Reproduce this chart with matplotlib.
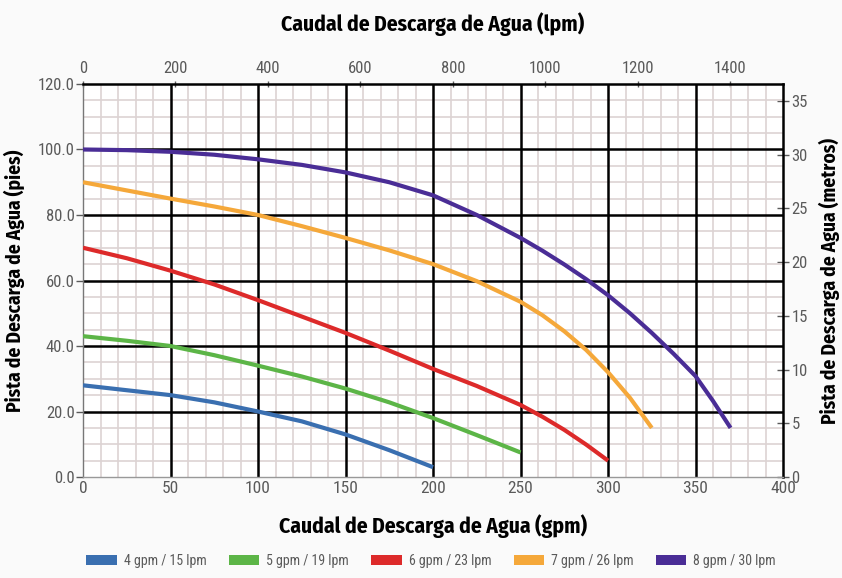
import matplotlib.pyplot as plt
from matplotlib.patches import Patch
from matplotlib.ticker import MultipleLocator

# caudal (gpm) y altura (pies)
gpm_4 = [0, 25, 50, 75, 100, 125, 150, 175, 200]
pies_4 = [28, 26.5, 25, 22.8, 20, 17, 13, 8.2, 3]
gpm_5 = [0, 25, 50, 75, 100, 125, 150, 175, 200, 225, 250]
pies_5 = [43, 41.6, 40, 37.2, 34, 30.7, 27, 22.8, 18, 12.8, 7.5]
gpm_6 = [0, 25, 50, 75, 100, 125, 150, 175, 200, 225, 250, 262.5, 275, 287.5, 300]
pies_6 = [70, 66.8, 63, 58.8, 54, 49, 44, 38.6, 33, 27.8, 22, 18.4, 14.4, 9.9, 5]
gpm_7 = [0, 25, 50, 75, 100, 125, 150, 175, 200, 225, 250, 262.5, 275, 287.5, 300, 312.5, 325]
pies_7 = [90, 87.5, 85, 82.6, 80, 76.6, 73, 69.2, 65, 59.8, 53.5, 49.4, 44.5, 38.8, 32, 24.2, 15]
gpm_8 = [0, 25, 50, 75, 100, 125, 150, 175, 200, 225, 250, 262.5, 275, 287.5,
         300, 312.5, 325, 337.5, 350, 360, 370]
pies_8 = [100, 99.8, 99.3, 98.4, 97, 95.3, 93, 90, 86, 80, 73, 69.1, 64.9, 60.4,
          55.5, 50, 44, 37.6, 30.8, 23.2, 15]

series = [
    (gpm_4, pies_4, '#3a6fb0', '4 gpm / 15 lpm'),
    (gpm_5, pies_5, '#5cb547', '5 gpm / 19 lpm'),
    (gpm_6, pies_6, '#dd2a2a', '6 gpm / 23 lpm'),
    (gpm_7, pies_7, '#f5a83a', '7 gpm / 26 lpm'),
    (gpm_8, pies_8, '#4a2d96', '8 gpm / 30 lpm'),
]

top_ticks = [0, 200, 400, 600, 800, 1000, 1200, 1400]
right_ticks = [0, 5, 10, 15, 20, 25, 30, 35]
left_ticks = [0, 20, 40, 60, 80, 100, 120]
bottom_ticks = [0, 50, 100, 150, 200, 250, 300, 350, 400]

GPM2LPM = 3.785
FT2M = 1 / 3.281

titlef = ['Fira Sans Condensed', 'DejaVu Sans']
tickf = ['Roboto Condensed', 'Archivo Narrow', 'DejaVu Sans']
gray = '#5a5a5a'

fig = plt.figure(figsize=(8.42, 5.78), dpi=100)
fig.patch.set_facecolor('#fafafa')
ax = fig.add_axes([0.0986, 0.1747, 0.8314, 0.68])
ax.set_facecolor('white')

ax.set_xlim(0, 400)
ax.set_ylim(0, 120)
ax.xaxis.set_minor_locator(MultipleLocator(10))
ax.yaxis.set_minor_locator(MultipleLocator(5))
ax.grid(which='minor', color='#ddd3d3', lw=1.2, zorder=0)
ax.set_axisbelow(True)
# lineas mayores encima de la malla fina
for v in bottom_ticks[1:-1]:
    ax.axvline(v, color='black', lw=1.8, zorder=1)
for v in left_ticks[1:-1]:
    ax.axhline(v, color='black', lw=1.8, zorder=1)

for x, y, c, lab in series:
    ax.plot(x, y, color=c, lw=3, solid_capstyle='butt',
            solid_joinstyle='round', zorder=3)

for s in ax.spines.values():
    s.set_color('black')
    s.set_linewidth(1.8)
ax.spines['left'].set_color('#777777')
ax.spines['left'].set_linewidth(1.0)
ax.spines['bottom'].set_color('#999999')
ax.spines['bottom'].set_linewidth(1.0)

ax.set_xticks(bottom_ticks)
ax.set_yticks(left_ticks)
ax.set_yticklabels(['%.1f' % v for v in left_ticks])
ax.tick_params(which='minor', length=0)
ax.tick_params(axis='y', which='major', length=5, width=1, color=gray,
               labelcolor=gray, labelsize=12, pad=1)
ax.tick_params(axis='x', which='major', length=0, labelcolor=gray,
               labelsize=12.5, pad=3)
for t in ax.get_xticklabels() + ax.get_yticklabels():
    t.set_family(tickf)

ax.set_xlabel('Caudal de Descarga de Agua (gpm)', family=titlef, fontsize=15.5,
              fontweight='bold', labelpad=13)
ax.set_ylabel('Pista de Descarga de Agua (pies)', family=titlef, fontsize=14,
              fontweight='bold', labelpad=9)

# eje superior en lpm
top = ax.secondary_xaxis('top', functions=(lambda g: g * GPM2LPM, lambda l: l / GPM2LPM))
top.set_xticks(top_ticks)
top.tick_params(length=5, width=1, direction='inout', color=gray,
                labelcolor=gray, labelsize=12, pad=3)
for t in top.get_xticklabels():
    t.set_family(tickf)
top.set_xlabel('Caudal de Descarga de Agua (lpm)', family=titlef, fontsize=15.5,
               fontweight='bold', labelpad=22)
top.spines['top'].set_visible(False)

# eje derecho en metros
right = ax.secondary_yaxis('right', functions=(lambda f: f * FT2M, lambda m: m / FT2M))
right.set_yticks(right_ticks)
right.tick_params(length=8, width=1, direction='inout', color=gray,
                  labelcolor=gray, labelsize=12, pad=2)
for t in right.get_yticklabels():
    t.set_family(tickf)
right.set_ylabel('Pista de Descarga de Agua (metros)', family=titlef, fontsize=14,
                 fontweight='bold', labelpad=8)
right.spines['right'].set_visible(False)

handles = [Patch(facecolor=c, edgecolor='none', label=lab) for _, _, c, lab in series]
leg = fig.legend(handles=handles, loc='lower center', ncol=5, frameon=False,
                 bbox_to_anchor=(0.512, -0.004), handlelength=2.2, handleheight=0.8,
                 columnspacing=1.6, handletextpad=0.5,
                 prop={'family': tickf, 'size': 10})
for t in leg.get_texts():
    t.set_color(gray)

fig.savefig('out.png', dpi=100, facecolor=fig.get_facecolor())
